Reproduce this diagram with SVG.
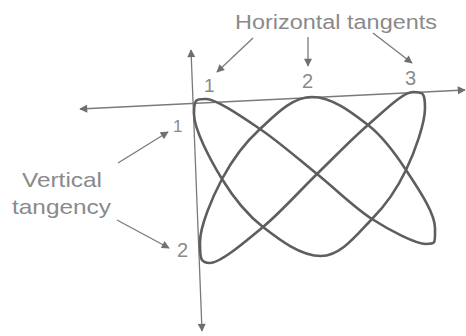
<svg xmlns="http://www.w3.org/2000/svg" width="466" height="336" viewBox="0 0 466 336">
<defs>
<marker id="ah" viewBox="0 0 10 10" refX="9" refY="5" markerWidth="9" markerHeight="8" markerUnits="userSpaceOnUse" orient="auto-start-reverse">
<path d="M0,0 L10,5 L0,10 z" fill="#6e6e6e"/>
</marker>
<marker id="lh" viewBox="0 0 10 10" refX="9" refY="5" markerWidth="9" markerHeight="8" markerUnits="userSpaceOnUse" orient="auto">
<path d="M0,0 L10,5 L0,10 z" fill="#707070"/>
</marker>
</defs>
<style>
.ax{stroke:#7a7a7a;stroke-width:1.3;fill:none}
.cv{stroke:#5e5e5e;stroke-width:2.6;fill:none;stroke-linejoin:round}
.ptr{stroke:#7a7a7a;stroke-width:1.3;fill:none}
.lbl{font-family:"Liberation Sans",Arial,sans-serif;fill:#8a8a8a}
</style>
<rect width="466" height="336" fill="#ffffff"/>
<g id="axes">
<line class="ax" x1="80" y1="109" x2="465" y2="90" marker-start="url(#ah)" marker-end="url(#ah)"/>
<line class="ax" x1="191" y1="50" x2="202" y2="331" marker-start="url(#ah)" marker-end="url(#ah)"/>
</g>
<g id="curve">
<path class="cv" d="M206,99 C195.8,99 194,98.7 194,114 C194,129.3 210.5,160.2 222,179 C233.5,197.8 246.5,214.2 263,227 C279.5,239.8 300.6,256 321,256 C341.4,256 357.8,233.3 372,219 C386.2,204.7 397.2,188.5 406,170 C414.8,151.5 425,123.3 425,108 C425,92.7 423.2,92 413,92 C402.8,92 384,111.3 368,125 C352,138.7 334.5,157 317,174 C299.5,191 280.8,212.2 263,227 C245.2,241.8 220.2,263 210,263 C199.8,263 200,257.3 200,242 C200,226.7 212,197.8 222,179 C232,160.2 245,142.7 260,129 C275,115.3 291.6,97 312,97 C332.4,97 352.3,112.8 368,125 C383.7,137.2 394.8,152.8 406,170 C417.2,187.2 435,212.7 435,228 C435,243.3 436.2,244 426,244 C415.8,244 390.2,230.7 372,219 C353.8,207.3 335.7,189 317,174 C298.3,159 278.5,141.5 260,129 C241.5,116.5 216.2,99 206,99 Z"/>
</g>
<g id="label-horizontal">
<text class="lbl" x="235" y="29" font-size="20" textLength="202" lengthAdjust="spacingAndGlyphs">Horizontal tangents</text>
</g>
<g id="label-vertical">
<text class="lbl" x="22" y="187" font-size="21" textLength="80" lengthAdjust="spacingAndGlyphs">Vertical</text>
<text class="lbl" x="12" y="214" font-size="21" textLength="99" lengthAdjust="spacingAndGlyphs">tangency</text>
</g>
<g id="numbers">
<text class="lbl" x="204" y="92" font-size="19">1</text>
<text class="lbl" x="302" y="88" font-size="20">2</text>
<text class="lbl" x="405" y="85" font-size="20">3</text>
<text class="lbl" x="173" y="132" font-size="17">1</text>
<text class="lbl" x="177" y="257" font-size="20">2</text>
</g>
<g id="connectors">
<line class="ptr" x1="253" y1="38" x2="217" y2="72" marker-end="url(#lh)"/>
<line class="ptr" x1="308" y1="37" x2="308" y2="66" marker-end="url(#lh)"/>
<line class="ptr" x1="373" y1="33" x2="412" y2="63" marker-end="url(#lh)"/>
<line class="ptr" x1="118" y1="163" x2="168" y2="132" marker-end="url(#lh)"/>
<line class="ptr" x1="117" y1="220" x2="169" y2="248" marker-end="url(#lh)"/>
</g>
</svg>
